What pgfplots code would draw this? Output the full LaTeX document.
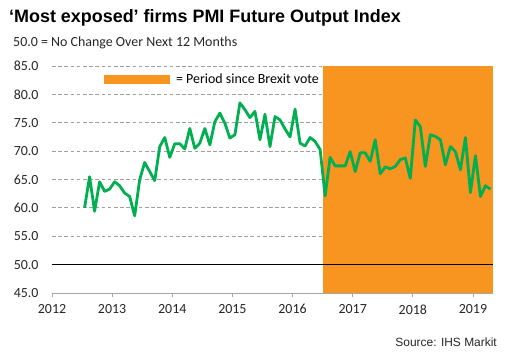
\documentclass[border=0pt]{standalone}
\usepackage{fontspec}
\setmainfont{Carlito}
\newfontfamily\arialfont{Liberation Sans}
\usepackage{pgfplots}
\pgfplotsset{compat=1.18}
\usepackage{pgfplotstable}
\definecolor{brexit}{RGB}{248,148,32}
\definecolor{pmigreen}{RGB}{0,176,80}
\pgfplotstableread{
year month value
2012 7 60.0
2012 8 65.5
2012 9 59.4
2012 10 64.6
2012 11 62.9
2012 12 63.3
2013 1 64.6
2013 2 63.9
2013 3 62.6
2013 4 62.0
2013 5 58.6
2013 6 65.0
2013 7 68.0
2013 8 66.4
2013 9 64.8
2013 10 70.8
2013 11 72.4
2013 12 68.9
2014 1 71.3
2014 2 71.3
2014 3 70.4
2014 4 74.0
2014 5 70.5
2014 6 71.4
2014 7 74.0
2014 8 71.1
2014 9 75.2
2014 10 76.7
2014 11 74.9
2014 12 72.3
2015 1 72.9
2015 2 78.5
2015 3 77.3
2015 4 75.9
2015 5 77.0
2015 6 72.0
2015 7 76.5
2015 8 70.8
2015 9 76.1
2015 10 75.5
2015 11 73.9
2015 12 72.5
2016 1 77.4
2016 2 71.4
2016 3 70.9
2016 4 72.4
2016 5 71.7
2016 6 70.3
2016 7 62.1
2016 8 68.9
2016 9 67.4
2016 10 67.4
2016 11 67.4
2016 12 69.9
2017 1 66.4
2017 2 69.7
2017 3 69.7
2017 4 68.2
2017 5 72.0
2017 6 66.0
2017 7 67.2
2017 8 66.9
2017 9 67.3
2017 10 68.5
2017 11 68.8
2017 12 65.2
2018 1 75.5
2018 2 74.3
2018 3 67.3
2018 4 72.9
2018 5 72.6
2018 6 72.0
2018 7 67.6
2018 8 70.8
2018 9 69.9
2018 10 66.7
2018 11 72.4
2018 12 62.7
2019 1 69.2
2019 2 62.0
2019 3 63.9
2019 4 63.3
}\pmidata
\begin{document}
\begin{tikzpicture}
\useasboundingbox (-52bp,-68bp) rectangle (458bp,293bp);
\begin{axis}[
  at={(0,0)}, anchor=south west,
  scale only axis, width=441bp, height=227bp,
  xmin=2012, xmax=2019.3333, ymin=45, ymax=85,
  axis x line*=bottom, axis y line*=left,
  y axis line style={draw=none},
  x axis line style={draw=gray!70, line width=0.8bp, -},
  xtick={2012,2013,2014,2015,2016,2017,2018,2019},
  xticklabels={2012,2013,2014,2015,2016,2017,2018,2019},
  ytick={45,50,55,60,65,70,75,80,85},
  yticklabels={45.0,50.0,55.0,60.0,65.0,70.0,75.0,80.0,85.0},
  ymajorgrids,
  grid style={gray!75, dash pattern=on 3.7bp off 2.5bp, line width=0.8bp},
  tick label style={font=\fontsize{14}{16}\selectfont, text=black!85},
  yticklabel style={xshift=-6bp},
  xticklabel style={yshift=-4bp},
  tick align=outside, major tick length=4bp,
  xtick style={gray!70, line width=0.8bp},
  ytick style={draw=none},
  legend style={at={(0.118,0.9405)}, anchor=west, draw=none, fill=none,
    font=\fontsize{14}{16}\selectfont, inner sep=0pt, outer sep=0pt},
  legend cell align=left,
]
\addplot[fill=brexit, draw=none, area legend,
  legend image code/.code={\fill[brexit] (0bp,-4.5bp) rectangle (66bp,4.5bp); \path (70bp,0bp);}]
  coordinates {(2016.5,45) (2016.5,85) (2019.3333,85) (2019.3333,45)} -- cycle;
\addlegendentry{= Period since Brexit vote}
\addplot[black, line width=1.4bp, forget plot] coordinates {(2012,50) (2019.3333,50)};
\addplot[pmigreen, line width=2.8bp, line join=round, forget plot]
  table[x expr=\thisrow{year}+(\thisrow{month}-0.5)/12, y=value]{\pmidata};
\end{axis}
\node[anchor=base west, inner sep=0pt, font=\arialfont\bfseries\fontsize{18}{20}\selectfont] at (-43bp,270.3bp) {‘Most exposed’ firms PMI Future Output Index};
\node[anchor=base west, inner sep=0pt, font=\fontsize{14}{16}\selectfont, text=black!85] at (-39bp,246.5bp) {50.0 = No Change Over Next 12 Months};
\node[anchor=base east, inner sep=0pt, font=\arialfont\fontsize{12}{14}\selectfont, text=black!85] at (445bp,-53bp) {Source: IHS Markit};
\end{tikzpicture}
\end{document}
